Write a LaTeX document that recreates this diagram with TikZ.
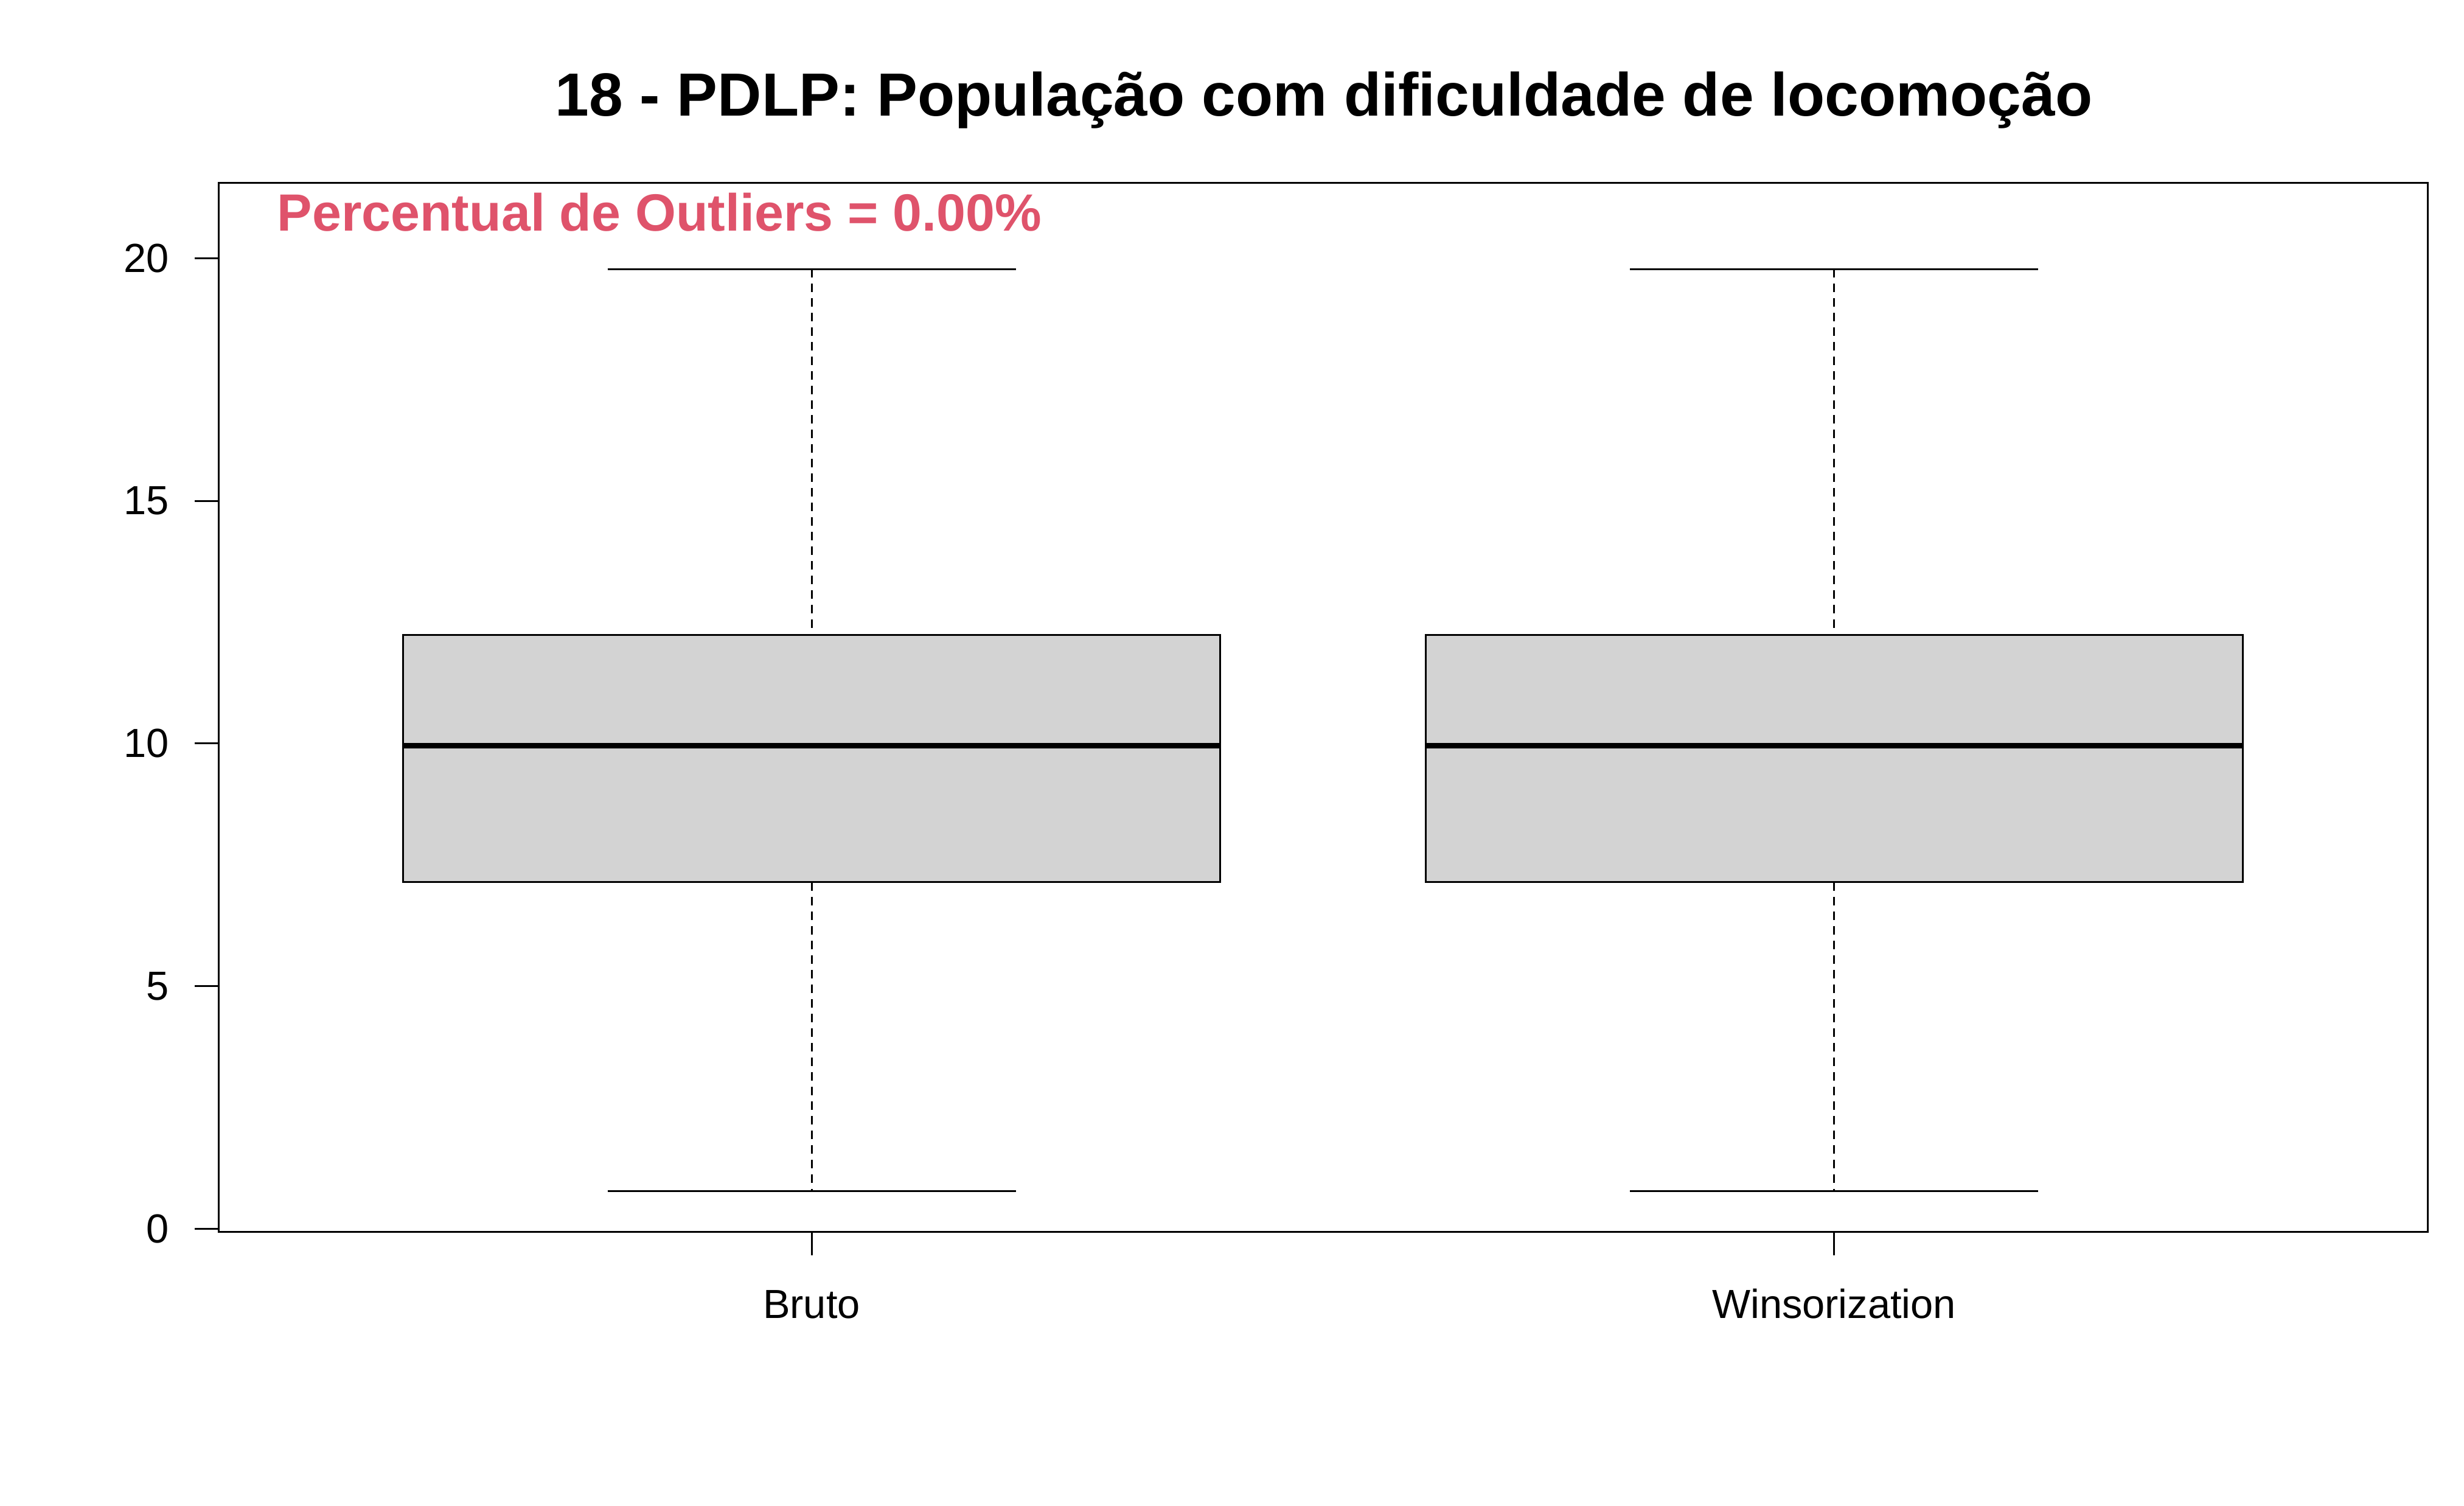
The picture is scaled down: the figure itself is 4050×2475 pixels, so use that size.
\documentclass[tikz,border=0pt]{standalone}
\usepackage{fontspec}
\setmainfont{Liberation Sans}
\definecolor{rred}{HTML}{DF536B}
\definecolor{boxgray}{HTML}{D3D3D3}
\begin{document}
\begin{tikzpicture}[x=0.1mm,y=-0.1mm,
  axline/.style={line width=0.3mm,black},
  boxrect/.style={line width=0.3mm,black,fill=boxgray},
  medline/.style={line width=0.9mm,black},
  whisk/.style={line width=0.3mm,black,dash pattern=on 1.4mm off 1.0mm},
  capline/.style={line width=0.3mm,black},
  ticklab/.style={inner sep=0pt,font=\fontsize{19pt}{22pt}\selectfont},
  titlelab/.style={inner sep=0pt,font=\fontsize{28.5pt}{34pt}\selectfont\bfseries},
  redlab/.style={inner sep=0pt,text=rred,font=\fontsize{24.5pt}{29pt}\selectfont\bfseries}]
\useasboundingbox[fill=white] (0,0) rectangle (4050,2475);
% title
\node[titlelab,anchor=base] (title) at (2176,191) {18 - PDLP: População com dificuldade de locomoção};
% plot frame
\draw[axline] (359,300.7) rectangle (3990,2024);
% outlier text
\node[redlab,anchor=base west] (pct) at (455,379) {Percentual de Outliers = 0.00\%};
% y axis
\draw[axline] (359,2019) -- (359,424.6);
\foreach \v/\yy in {0/2019,5/1620.4,10/1221.8,15/823.2,20/424.6}{
  \draw[axline] (359,\yy) -- (320,\yy);
  \node[ticklab,anchor=east] (yl\v) at (278,\yy) {\v};
}
% x axis ticks and labels
\foreach \cx/\nm/\lab in {1334/b/Bruto,3014.5/w/Winsorization}{
  \draw[axline] (\cx,2024) -- (\cx,2063);
  \node[ticklab,anchor=base] (xl\nm) at (\cx,2166) {\lab};
}
% boxes
\foreach \cx/\nm in {1334/b,3014.5/w}{
  \coordinate (up\nm) at (\cx,442);
  \coordinate (q3\nm) at (\cx,1043.5);
  \coordinate (q1\nm) at (\cx,1449.8);
  \coordinate (lo\nm) at (\cx,1957);
  \draw[whisk] (up\nm) -- (q3\nm);
  \draw[whisk] (q1\nm) -- (lo\nm);
  \draw[capline] (\cx-335.5,442) -- (\cx+335.5,442);
  \draw[capline] (\cx-335.5,1957) -- (\cx+335.5,1957);
  \draw[boxrect] (\cx-671.5,1043.5) rectangle (\cx+671.5,1449.8);
  \draw[medline] (\cx-671.5,1225.5) -- (\cx+671.5,1225.5);
}
\end{tikzpicture}
\end{document}
